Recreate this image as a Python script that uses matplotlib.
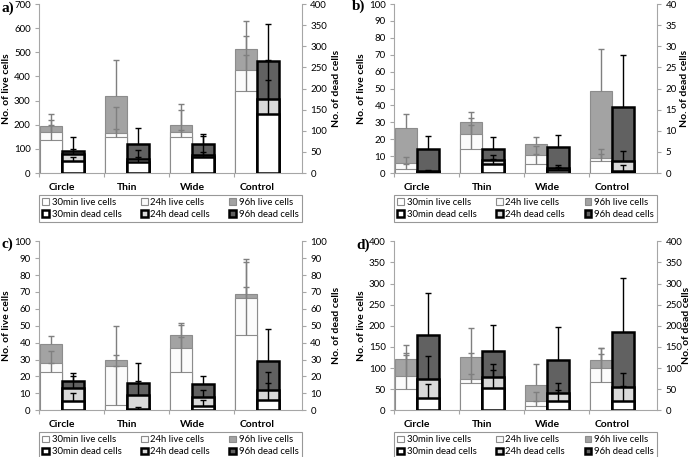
#!/usr/bin/env python3

import matplotlib
matplotlib.use('Agg')
import matplotlib.pyplot as plt
from matplotlib.patches import Patch
import numpy as np

# Live / dead cell counts per surface, three time points per panel.
# Values are the bar tops, errors are the upper (plus-only) error bars.

plt.rcParams['font.family'] = ['Lato', 'DejaVu Sans']

categories = ['Circle', 'Thin', 'Wide', 'Control']
times = ['30min', '24h', '96h']

# panel a
a_live = {'30min': [137, 148, 149, 338], '24h': [170, 165, 168, 425], '96h': [195, 320, 200, 515]}
a_live_err = {'30min': [61, 35, 28, 152], '24h': [50, 110, 92, 144], '96h': [51, 148, 86, 113]}
a_dead = {'30min': [28, 25, 38, 140], '24h': [46, 33, 43, 175], '96h': [51, 69, 69, 266]}
a_dead_err = {'30min': [10, 13, 11, 79], '24h': [11, 21, 44, 92], '96h': [34, 37, 23, 87]}

# panel b
b_live = {'30min': [2.6, 14, 5.3, 7.1], '24h': [5.9, 22.9, 10.7, 8.9], '96h': [26.8, 30.2, 17.2, 48.3]}
b_live_err = {'30min': [3.0, 14.2, 5.7, 4.1], '24h': [3.4, 9.4, 5.1, 5.1], '96h': [8.1, 5.9, 3.9, 25.1]}
b_dead = {'30min': [0.2, 2.05, 0.6, 0.55], '24h': [0.4, 3.0, 1.3, 2.9], '96h': [5.6, 5.76, 6.2, 15.6]}
b_dead_err = {'30min': [0.3, 1.2, 0.9, 1.25], '24h': [0.3, 1.2, 0.6, 2.2], '96h': [3.2, 2.8, 2.7, 12.4]}

# panel c
c_live = {'30min': [22.7, 3, 22.7, 44.6], '24h': [28.2, 26.2, 37.1, 66.3], '96h': [39, 29.6, 44.6, 69]}
c_live_err = {'30min': [5.5, 23.2, 20.9, 28.4], '24h': [6.9, 6.3, 14.4, 21.5], '96h': [5.2, 20.5, 5.7, 20.7]}
c_dead = {'30min': [5.5, 0.6, 2.6, 5.9], '24h': [13, 8.9, 7.9, 12], '96h': [17.2, 16.4, 15.6, 29.2]}
c_dead_err = {'30min': [4.6, 1.4, 3.3, 10.5], '24h': [7.3, 8.3, 4.3, 10.7], '96h': [5.1, 11.8, 4.7, 18.7]}

# panel d
d_live = {'30min': [51, 65.5, 10.3, 67], '24h': [80, 73, 22, 99.4], '96h': [121, 126, 59, 118]}
d_live_err = {'30min': [80, 19.5, 11.7, 81], '24h': [56, 63.5, 22, 34.6], '96h': [33, 69, 50, 30]}
d_dead = {'30min': [28, 53.6, 22, 22], '24h': [73, 79, 42, 56], '96h': [177.5, 140.4, 119, 185.4]}
d_dead_err = {'30min': [33.5, 41.9, 25, 35.6], '24h': [55.6, 30, 22, 31.5], '96h': [101, 60.6, 77.5, 127.6]}

panels = [
    ('a)', a_live, a_live_err, a_dead, a_dead_err, 700, 100, 400, 50),
    ('b)', b_live, b_live_err, b_dead, b_dead_err, 100, 10, 40, 5),
    ('c)', c_live, c_live_err, c_dead, c_dead_err, 100, 10, 100, 10),
    ('d)', d_live, d_live_err, d_dead, d_dead_err, 400, 50, 400, 50),
]

LIVE_FILL = {'30min': 'white', '24h': '#fbfbfb', '96h': '#a3a3a3'}
DEAD_FILL = {'30min': 'white', '24h': '#d9d9d9', '96h': '#616161'}
ZORD = {'30min': 3, '24h': 2, '96h': 1}
GRID = '#a6a6a6'
W = 0.34

# axes boxes in figure fraction: left, bottom, width, height
boxes = [
    (0.0564, 0.6214, 0.3806, 0.3698),
    (0.5702, 0.6214, 0.3806, 0.3698),
    (0.0564, 0.1022, 0.3806, 0.3698),
    (0.5702, 0.1022, 0.3806, 0.3698),
]
right_label_x = [1.114, 1.087, 1.114, 1.095]
# panel tag positions in figure pixels (x left, y centre from top)
tag_pos = [(1, 8), (352, 6), (1, 244), (356, 245)]


def style_axis(a, side):
    for s in a.spines.values():
        s.set_visible(False)
    a.spines[side].set_visible(True)
    a.spines[side].set_color(GRID)
    a.tick_params(axis='y', colors=GRID, labelcolor='black', labelsize=7,
                  length=3, width=0.8, direction='out', pad=3)


fig = plt.figure(figsize=(6.91, 4.57), dpi=100)
FW, FH = 691.0, 457.0

x = np.arange(len(categories))
for k, (tag, live, live_err, dead, dead_err, lmax, lstep, rmax, rstep) in enumerate(panels):
    ax = fig.add_axes(boxes[k])
    ax2 = ax.twinx()

    for t in times:
        ax.bar(x - W / 2, live[t], W, color=LIVE_FILL[t], edgecolor='#8c8c8c',
               linewidth=0.8, zorder=ZORD[t])
        ax2.bar(x + W / 2, dead[t], W, color=DEAD_FILL[t], edgecolor='black',
                linewidth=1.8, zorder=ZORD[t])
    for t in times:
        e = ax.errorbar(x - W / 2, live[t], yerr=[np.zeros(4), live_err[t]], fmt='none',
                        ecolor='#7f7f7f', elinewidth=1.0, capsize=2, capthick=1.0, zorder=5)
        e[1][0].set_visible(False)
        e = ax2.errorbar(x + W / 2, dead[t], yerr=[np.zeros(4), dead_err[t]], fmt='none',
                         ecolor='black', elinewidth=1.0, capsize=2, capthick=1.0, zorder=5)
        e[1][0].set_visible(False)

    ax.set_xlim(-0.354, 3.69)
    ax.set_ylim(0, lmax)
    ax2.set_ylim(0, rmax)
    ax.set_yticks(np.arange(0, lmax + lstep / 2, lstep))
    ax2.set_yticks(np.arange(0, rmax + rstep / 2, rstep))

    style_axis(ax, 'left')
    style_axis(ax2, 'right')
    ax.spines['bottom'].set_visible(True)
    ax.spines['bottom'].set_color(GRID)

    ax.set_xticks(x)
    ax.set_xticklabels(categories, fontsize=7.5, fontweight='bold')
    ax.tick_params(axis='x', length=0, pad=7)
    ax.set_xticks(x - 0.35, minor=True)
    ax.tick_params(axis='x', which='minor', length=3, color=GRID, width=0.8)

    ax.set_ylabel('No. of live cells', fontsize=7.5, fontweight='bold')
    ax.yaxis.set_label_coords(-0.106, 0.5)
    ax2.set_ylabel('No. of dead cells', fontsize=7.5, fontweight='bold')
    ax2.yaxis.set_label_coords(right_label_x[k], 0.5)

    handles = []
    for t in times:
        handles.append(Patch(facecolor=LIVE_FILL[t], edgecolor='#8c8c8c', linewidth=0.8,
                             label='%s live cells' % t))
        handles.append(Patch(facecolor=DEAD_FILL[t], edgecolor='black', linewidth=1.8,
                             label='%s dead cells' % t))
    leg = ax.legend(handles=handles, ncol=3, loc='center', mode='expand',
                    bbox_to_anchor=(0, -0.28, 1, 0.14), fontsize=6.8, frameon=True,
                    fancybox=False, handlelength=0.7, handleheight=0.7,
                    handletextpad=0.3, borderpad=0.35, labelspacing=0.3,
                    columnspacing=0.8, borderaxespad=0)
    leg.get_frame().set_edgecolor('#7f7f7f')
    leg.get_frame().set_linewidth(0.8)

    tx, ty = tag_pos[k]
    fig.text(tx / FW, 1 - ty / FH, tag, fontsize=11, fontweight='bold',
             family='Liberation Serif', ha='left', va='center')

fig.savefig('out.png', dpi=100)
